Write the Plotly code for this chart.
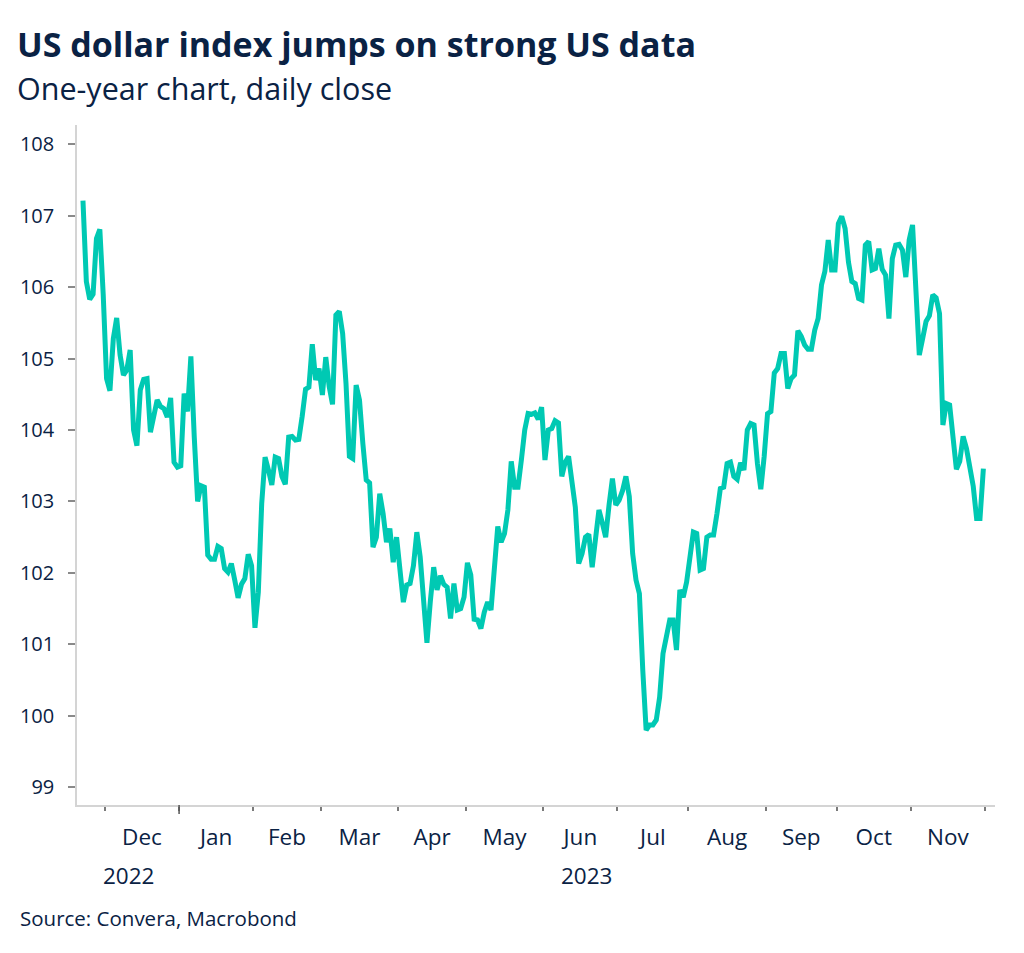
import pandas as pd
import plotly.graph_objects as go

# ---------------- data (DXY daily close) ----------------
start_date = "2022-11-22"
end_date = "2023-11-30"

nov_2022 = [107.21, 106.08, 105.83, 105.90, 106.68, 106.81, 105.90]
dec_2022 = [104.72, 104.55, 105.28, 105.57, 105.05, 104.77, 104.84, 105.12, 104.00, 103.78,
            104.56, 104.71, 104.72, 103.97, 104.20, 104.42, 104.33, 104.30, 104.18, 104.45,
            103.55, 103.48]
jan_2023 = [103.50, 104.51, 104.26, 105.03, 103.90, 103.00, 103.22, 103.20, 102.25, 102.19,
            102.19, 102.37, 102.34, 102.06, 102.01, 102.13, 101.90, 101.65, 101.84, 101.92,
            102.26, 102.10]
feb_2023 = [101.23, 101.73, 102.97, 103.62, 103.44, 103.23, 103.62, 103.60, 103.35, 103.24,
            103.90, 103.91, 103.86, 103.87, 104.19, 104.57, 104.60, 105.20, 104.70, 104.86]
mar_2023 = [104.49, 105.02, 104.61, 104.36, 105.61, 105.66, 105.35, 104.65, 103.63, 103.60,
            104.63, 104.42, 103.81, 103.30, 103.26, 102.36, 102.50, 103.11, 102.83, 102.43,
            102.62, 102.15, 102.50]
apr_2023 = [102.08, 101.59, 101.83, 101.85, 102.10, 102.57, 102.22, 101.50, 101.02, 101.60,
            102.08, 101.76, 101.96, 101.84, 101.80, 101.36, 101.85, 101.48, 101.50, 101.66]
may_2023 = [102.14, 101.97, 101.35, 101.34, 101.22, 101.45, 101.59, 101.48, 102.10, 102.65,
            102.43, 102.55, 102.88, 103.56, 103.20, 103.20, 103.58, 104.00, 104.23, 104.22,
            104.24, 104.15, 104.32]
jun_2023 = [103.58, 104.00, 104.02, 104.13, 104.10, 103.35, 103.55, 103.63, 103.30, 102.92,
            102.13, 102.27, 102.50, 102.54, 102.08, 102.46, 102.88, 102.70, 102.50, 102.95,
            103.32, 102.95]
jul_2023 = [103.02, 103.15, 103.35, 103.07, 102.27, 101.90, 101.71, 100.64, 99.80, 99.87,
            99.87, 99.94, 100.26, 100.87, 101.15, 101.34, 101.34, 100.92, 101.76, 101.66,
            101.87]
aug_2023 = [102.27, 102.57, 102.55, 102.04, 102.06, 102.50, 102.53, 102.53, 102.83, 103.18,
            103.20, 103.53, 103.55, 103.35, 103.31, 103.54, 103.44, 104.00, 104.09, 104.07,
            103.53, 103.17, 103.63]
sep_2023 = [104.23, 104.26, 104.80, 104.86, 105.07, 105.07, 104.58, 104.72, 104.77, 105.39,
            105.31, 105.19, 105.13, 105.13, 105.40, 105.56, 106.03, 106.22, 106.66, 106.24,
            106.24]
oct_2023 = [106.89, 106.99, 106.82, 106.35, 106.08, 106.05, 105.84, 105.82, 106.59, 106.64,
            106.24, 106.26, 106.54, 106.25, 106.17, 105.56, 106.40, 106.59, 106.60, 106.52,
            106.14, 106.66]
nov_2023 = [106.87, 106.00, 105.05, 105.28, 105.52, 105.60, 105.89, 105.85, 105.63, 104.07,
            104.37, 104.35, 103.80, 103.45, 103.56, 103.91, 103.74, 103.44, 103.21, 102.76,
            102.76, 103.46]

month_labels = ["Dec", "Jan", "Feb", "Mar", "Apr", "May", "Jun",
                "Jul", "Aug", "Sep", "Oct", "Nov"]
year_labels = ["2022", "2023"]
y_ticks = [99, 100, 101, 102, 103, 104, 105, 106, 107, 108]

title_text = "US dollar index jumps on strong US data"
subtitle_text = "One-year chart, daily close"
source_text = "Source: Convera, Macrobond"

# ---------------- build ----------------
values = (nov_2022 + dec_2022 + jan_2023 + feb_2023 + mar_2023 + apr_2023 + may_2023
          + jun_2023 + jul_2023 + aug_2023 + sep_2023 + oct_2023 + nov_2023)
dates = pd.bdate_range(start_date, end_date)
assert len(dates) == len(values), (len(dates), len(values))
x_dates = dates + pd.Timedelta(hours=12)

NAVY = "#0a2244"
LINE = "#00C9B3"
FONT = "Open Sans"

# month boundary ticks and mid-month label positions
month_starts = pd.date_range("2022-12-01", "2023-11-01", freq="MS")
label_pos, boundary_pos = [], []
for ms in month_starts:
    me = ms + pd.offsets.MonthEnd(0)
    bd = pd.bdate_range(ms, me)
    n = len(bd)
    boundary_pos.append(bd[0])
    mid = bd[n // 2] if n % 2 == 0 else bd[n // 2] + pd.Timedelta(hours=12)
    label_pos.append(mid)
boundary_pos.append(pd.bdate_range("2023-12-01", "2023-12-08")[0])

fig = go.Figure()
fig.add_trace(go.Scatter(
    x=x_dates, y=values, mode="lines",
    line=dict(color=LINE, width=5),
    hoverinfo="x+y", showlegend=False,
))

# page body has an 8px margin: figure is sized/offset to compensate
fig.update_layout(
    width=1008, height=937,
    margin=dict(l=65, r=21, t=117, b=140),
    paper_bgcolor="white", plot_bgcolor="white",
    font=dict(family=FONT, color=NAVY),
    xaxis=dict(
        type="date",
        range=["2022-11-18 17:30", "2023-12-05 22:48"],
        rangebreaks=[dict(bounds=["sat", "mon"])],
        tickmode="array",
        tickvals=label_pos,
        ticktext=month_labels,
        ticks="outside", ticklen=0, tickcolor="rgba(0,0,0,0)",
        ticklabelstandoff=11,
        tickfont=dict(size=22.5, color=NAVY, family=FONT),
        minor=dict(tickmode="array", tickvals=boundary_pos, ticks="outside",
                   ticklen=4, tickwidth=1.5, tickcolor="#7a7a7a", showgrid=False),
        showline=True, linecolor="#d4d4d4", linewidth=1.5,
        showgrid=False, zeroline=False,
    ),
    yaxis=dict(
        range=[98.75, 108.27],
        tickmode="array", tickvals=y_ticks,
        ticks="outside", ticklen=7, tickwidth=1.5, tickcolor="#8a8a8a",
        ticklabelstandoff=10,
        tickfont=dict(size=20, color=NAVY, family=FONT),
        showline=True, linecolor="#d4d4d4", linewidth=1.5,
        showgrid=False, zeroline=False,
    ),
)

# longer tick at the year boundary
fig.add_shape(type="line", xref="x", yref="paper",
              x0=boundary_pos[1], x1=boundary_pos[1],
              ysizemode="pixel", yanchor=0, y0=0, y1=-9,
              line=dict(color="#555555", width=1.5))

# year labels
fig.add_annotation(text=year_labels[0], xref="paper", yref="paper", x=0.0556, y=-0.103,
                   showarrow=False, font=dict(size=22.5, color=NAVY, family=FONT),
                   xanchor="center", yanchor="middle")
fig.add_annotation(text=year_labels[1], xref="paper", yref="paper", x=0.555, y=-0.103,
                   showarrow=False, font=dict(size=22.5, color=NAVY, family=FONT),
                   xanchor="center", yanchor="middle")

# title, subtitle, source
fig.add_annotation(text="<b>" + title_text + "</b>", xref="paper", yref="paper",
                   x=-0.0675, y=1.1195, xanchor="left", yanchor="middle", showarrow=False,
                   font=dict(size=34, color=NAVY, family=FONT))
fig.add_annotation(text=subtitle_text, xref="paper", yref="paper",
                   x=-0.0675, y=1.0545, xanchor="left", yanchor="middle", showarrow=False,
                   font=dict(size=30.5, color=NAVY, family=FONT))
fig.add_annotation(text=source_text, xref="paper", yref="paper",
                   x=-0.0645, y=-0.166, xanchor="left", yanchor="middle", showarrow=False,
                   font=dict(size=20.5, color=NAVY, family=FONT))

fig.write_html("out.html")
